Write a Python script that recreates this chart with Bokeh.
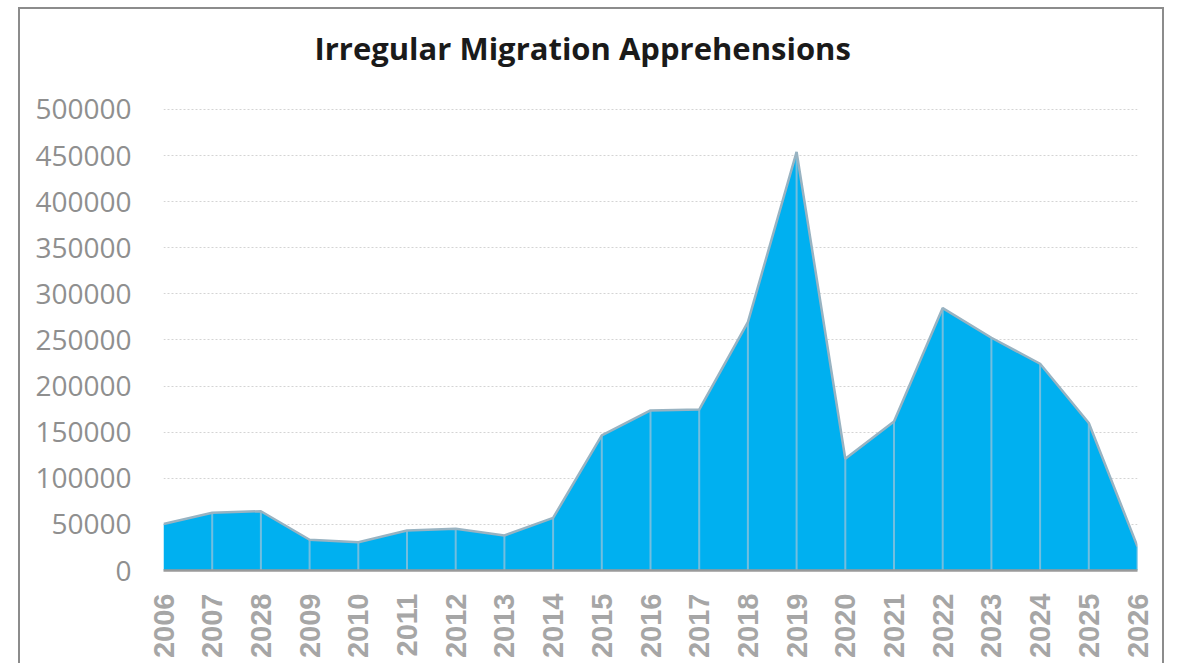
import math
from bokeh.plotting import figure
from bokeh.models import FixedTicker, Range1d, Title
from bokeh.embed import file_html
from bokeh.resources import INLINE

title_text = "Irregular Migration Apprehensions"
years = ["2006", "2007", "2028", "2009", "2010", "2011", "2012", "2013", "2014", "2015",
         "2016", "2017", "2018", "2019", "2020", "2021", "2022", "2023", "2024", "2025", "2026"]
apprehensions = [50500, 62600, 64300, 33300, 30700, 43400, 45200, 38000, 57100, 146500,
                 173600, 174500, 269400, 453900, 121200, 161700, 284600, 252400, 224200, 159900, 26000]
y_ticks = [0, 50000, 100000, 150000, 200000, 250000, 300000, 350000, 400000, 450000, 500000]

idx = list(range(len(years)))

p = figure(width=1146, height=656, output_backend="svg", toolbar_location=None,
           x_range=Range1d(0, len(years) - 1), y_range=Range1d(0, 523800),
           min_border_left=143, min_border_right=29, min_border_top=10, min_border_bottom=95)
p.styles = {"margin-left": "18px", "margin-top": "7px", "border-left": "2px solid #8c8c8c",
            "border-top": "2px solid #8c8c8c", "border-right": "2px solid #8c8c8c"}
p.outline_line_color = None
p.background_fill_color = "white"
p.border_fill_color = "white"

p.title = Title(text=title_text, text_font="Open Sans", text_font_style="bold",
                text_font_size="31px", text_color="#1a1a1a",
                align="left", offset=151, vertical_align="top", standoff=34)

p.varea(x=idx, y1=0, y2=apprehensions, fill_color="#00B0F0")
p.segment(x0=idx[1:], y0=0, x1=idx[1:], y1=apprehensions[1:], line_color="#72bedf", line_width=2)
p.line(idx, apprehensions, line_color="#98b3c2", line_width=2.5)

p.xaxis.ticker = FixedTicker(ticks=idx)
p.xaxis.major_label_overrides = {i: y for i, y in enumerate(years)}
p.xaxis.major_label_orientation = math.pi / 2
p.xaxis.major_label_text_font = "Liberation Sans"
p.xaxis.major_label_text_font_style = "bold"
p.xaxis.major_label_text_font_size = "29px"
p.xaxis.major_label_text_color = "#a6a6a6"
p.xaxis.major_label_standoff = 17
p.xaxis.major_tick_line_color = None
p.xaxis.minor_tick_line_color = None
p.xaxis.axis_line_color = "#9a9a9a"
p.xaxis.axis_line_width = 2.5

p.yaxis.ticker = FixedTicker(ticks=y_ticks)
p.yaxis.major_label_text_font = "Open Sans"
p.yaxis.major_label_text_font_size = "28px"
p.yaxis.major_label_text_color = "#8f8f8f"
p.yaxis.major_label_standoff = 26
p.yaxis.major_tick_line_color = None
p.yaxis.minor_tick_line_color = None
p.yaxis.axis_line_color = None
p.yaxis.formatter.use_scientific = False

p.xgrid.grid_line_color = None
p.ygrid.grid_line_color = "#d4d4d4"
p.ygrid.grid_line_dash = "2 2"
p.ygrid.grid_line_width = 1

open("out.html", "w").write(file_html(p, INLINE))
